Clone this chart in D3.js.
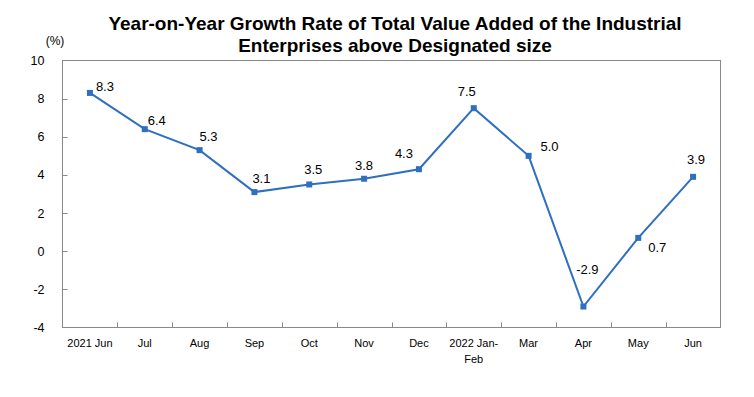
<!DOCTYPE html>
<html>
<head>
<meta charset="utf-8">
<script src="https://cdn.jsdelivr.net/npm/d3@7"></script>
<style>
  html, body { margin: 0; padding: 0; background: #fff; }
  svg { display: block; font-family: Arial, "Liberation Sans", sans-serif; }
</style>
</head>
<body>
<svg id="chart" width="754" height="397"></svg>
<script>
// ---- data ----
const categories = ["2021 Jun", "Jul", "Aug", "Sep", "Oct", "Nov", "Dec", "2022 Jan-\nFeb", "Mar", "Apr", "May", "Jun"];
const growth = [8.3, 6.4, 5.3, 3.1, 3.5, 3.8, 4.3, 7.5, 5.0, -2.9, 0.7, 3.9];
const yTicks = [-4, -2, 0, 2, 4, 6, 8, 10];
const titleLines = ["Year-on-Year Growth Rate of Total Value Added of the Industrial", "Enterprises above Designated size"];
const unitLabel = "(%)";
// label nudges (px) relative to each point, as placed in the reference
const labelDx = [15, 12, 9, 7, 4, 0, -15, -7, 21, 4, 19, 3];
const labelDy = [-2, -4, -9, -9, -10, -9, -11, -12, -5, -33, 14, -13];

// ---- layout ----
const svg = d3.select("#chart");
const pLeft = 62.5, pRight = 720.5, pTop = 60.5, pBottom = 327.5;
const lineColor = "#2f6fc0";
const axisColor = "#898989";
const loc = d3.formatLocale({decimal: ".", thousands: ",", grouping: [3], currency: ["", ""], minus: "-"});

const x = d3.scaleBand().domain(categories).range([pLeft, pRight]).padding(0);
const y = d3.scaleLinear().domain([-4, 10]).range([pBottom, pTop]);
const cx = d => x(d) + x.bandwidth() / 2;

// title
svg.append("g").selectAll("text").data(titleLines).join("text")
  .attr("x", 395).attr("y", (d, i) => 30 + i * 22)
  .attr("text-anchor", "middle")
  .attr("font-size", 19).attr("font-weight", "bold").attr("fill", "#000")
  .text(d => d);

// unit
svg.append("text").attr("x", 55).attr("y", 45).attr("text-anchor", "middle")
  .attr("font-size", 12).attr("fill", "#000").text(unitLabel);

// plot frame
svg.append("rect").attr("x", pLeft).attr("y", pTop)
  .attr("width", pRight - pLeft).attr("height", pBottom - pTop)
  .attr("fill", "none").attr("stroke", axisColor).attr("stroke-width", 1);

// y axis
const yAxis = d3.axisLeft(y).tickValues(yTicks).tickSize(0).tickPadding(18).tickFormat(loc.format("d"));
const gy = svg.append("g").attr("transform", `translate(${pLeft},0)`).call(yAxis);
gy.select(".domain").remove();
gy.selectAll("text").attr("font-size", 12.5).attr("fill", "#000").attr("font-family", "Arial, 'Liberation Sans', sans-serif");
// inward y ticks
svg.append("g").selectAll("line").data(yTicks.filter(t => t !== -4 && t !== 10)).join("line")
  .attr("x1", pLeft).attr("x2", pLeft + 5)
  .attr("y1", d => Math.round(y(d)) + 0.5).attr("y2", d => Math.round(y(d)) + 0.5)
  .attr("stroke", axisColor);

// x tick marks at category boundaries (inward)
svg.append("g").selectAll("line").data(categories.slice(1)).join("line")
  .attr("x1", d => Math.round(x(d)) + 0.5).attr("x2", d => Math.round(x(d)) + 0.5)
  .attr("y1", pBottom).attr("y2", pBottom - 5)
  .attr("stroke", axisColor);

// x labels
const xl = svg.append("g").selectAll("text").data(categories).join("text")
  .attr("x", d => cx(d)).attr("y", 346.5)
  .attr("text-anchor", "middle").attr("font-size", 11).attr("fill", "#000");
xl.each(function(d) {
  const parts = d.split("\n");
  d3.select(this).selectAll("tspan").data(parts).join("tspan")
    .attr("x", cx(d)).attr("dy", (p, i) => i === 0 ? 0 : 16).text(p => p);
});

// line
const line = d3.line().x((v, i) => cx(categories[i])).y(v => y(v));
svg.append("path").datum(growth).attr("d", line)
  .attr("fill", "none").attr("stroke", lineColor).attr("stroke-width", 2).attr("stroke-linejoin", "miter");

// markers
svg.append("g").selectAll("rect").data(growth).join("rect")
  .attr("x", (v, i) => cx(categories[i]) - 3).attr("y", v => y(v) - 3)
  .attr("width", 6).attr("height", 6).attr("fill", lineColor);

// data labels
svg.append("g").selectAll("text").data(growth).join("text")
  .attr("x", (v, i) => cx(categories[i]) + labelDx[i])
  .attr("y", (v, i) => y(v) + labelDy[i])
  .attr("text-anchor", "middle").attr("font-size", 13).attr("fill", "#000")
  .text(v => loc.format(".1f")(v));
</script>
</body>
</html>
